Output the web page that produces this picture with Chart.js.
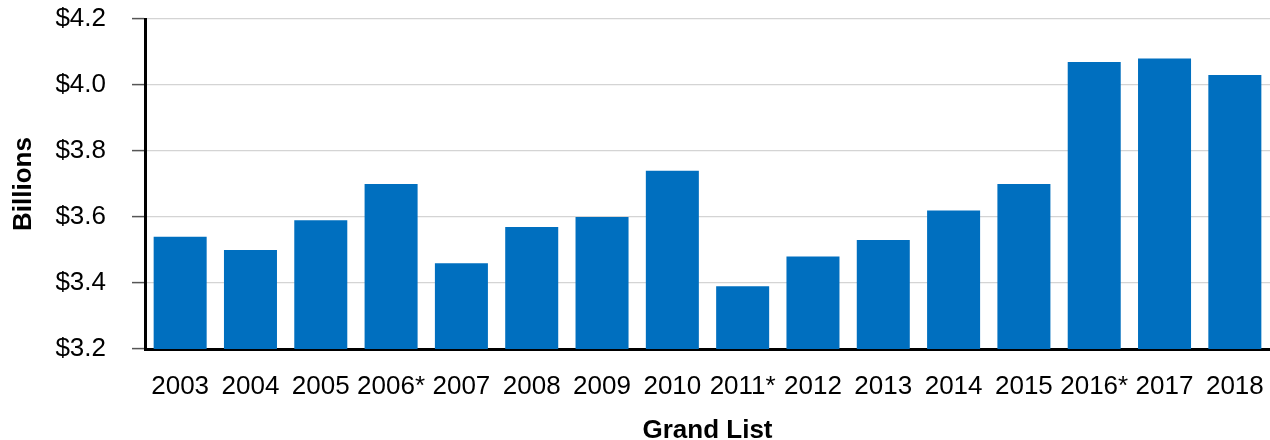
<!DOCTYPE html>
<html>
<head>
<meta charset="utf-8">
<script src="https://cdn.jsdelivr.net/npm/chart.js@4"></script>
<style>
  html, body { margin: 0; padding: 0; background: #fff; }
  #wrap { width: 1270px; height: 440px; }
</style>
</head>
<body>
<div id="wrap"><canvas id="chart" width="1270" height="440"></canvas></div>
<script>
// Data
const years = ["2003", "2004", "2005", "2006*", "2007", "2008", "2009", "2010",
               "2011*", "2012", "2013", "2014", "2015", "2016*", "2017", "2018"];
const grandList = [3.54, 3.50, 3.59, 3.70, 3.46, 3.57, 3.60, 3.74,
                   3.39, 3.48, 3.53, 3.62, 3.70, 4.07, 4.08, 4.03];
const yTicks = [3.2, 3.4, 3.6, 3.8, 4.0, 4.2];

const font = "'Liberation Sans', Arial, sans-serif";

new Chart(document.getElementById('chart'), {
    type: 'bar',
    data: {
        labels: years,
        datasets: [{
            data: grandList,
            backgroundColor: '#006fbf',
            borderWidth: 0,
            categoryPercentage: 1,
            barPercentage: 0.754
        }]
    },
    options: {
        responsive: false,
        animation: false,
        layout: { padding: { top: 19, right: 0, left: 0, bottom: 0 } },
        plugins: { legend: { display: false }, tooltip: { enabled: false } },
        scales: {
            x: {
                grid: { display: false },
                border: { color: '#000', width: 3 },
                ticks: { color: '#000', font: { family: font, size: 26 }, padding: 14, maxRotation: 0, autoSkip: false },
                title: { display: true, text: 'Grand List', color: '#000',
                         font: { family: font, size: 26, weight: 'bold' }, padding: { top: 4, bottom: -6 } },
                afterFit: s => { s.height = 91; s.paddingLeft = 0; s.paddingRight = 0; }
            },
            y: {
                min: yTicks[0],
                max: yTicks[yTicks.length - 1],
                afterBuildTicks: s => { s.ticks = yTicks.map(v => ({ value: v })); },
                grid: { color: '#d4d4d4', lineWidth: 1.2, tickColor: '#555', tickLength: 13, tickWidth: 1.5 },
                border: { color: '#000', width: 3 },
                ticks: { color: '#000', font: { family: font, size: 26 }, padding: 26,
                         callback: v => '$' + Number(v).toFixed(1) },
                title: { display: true, text: 'Billions', color: '#000',
                         font: { family: font, size: 26, weight: 'bold' }, padding: { top: 8, bottom: 0 } },
                afterFit: s => { s.width = 145; s.paddingTop = 0; s.paddingBottom = 0; }
            }
        }
    }
});
</script>
</body>
</html>
